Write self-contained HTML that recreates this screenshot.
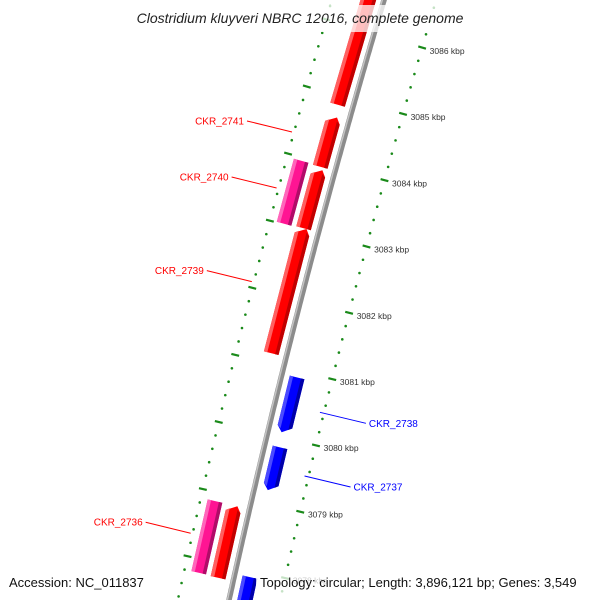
<!DOCTYPE html>
<html><head><meta charset="utf-8"><style>
html,body{margin:0;padding:0;background:#fff;overflow:hidden;}
svg{display:block;font-family:"Liberation Sans",sans-serif;}
</style></head><body>
<svg id="chart" width="600" height="600" viewBox="0 0 600 600" xmlns="http://www.w3.org/2000/svg">
<g id="rings"></g>
<g id="backbone"></g>
<g id="genes"></g>
<g id="labels"></g>
<rect x="116" y="5" width="368" height="27" fill="#fff" opacity="0.75"/>
<text x="300" y="23" text-anchor="middle" font-size="14" font-style="italic" fill="#222">Clostridium kluyveri NBRC 12016, complete genome</text>
<rect x="5" y="570" width="142" height="26" fill="#fff" opacity="0.75"/>
<text x="9" y="587" font-size="13" fill="#111">Accession: NC_011837</text>
<rect x="256" y="570" width="340" height="26" fill="#fff" opacity="0.75"/>
<text x="260" y="587" font-size="13" fill="#111">Topology: circular; Length: 3,896,121 bp; Genes: 3,549</text>
</svg>
<script>
// data
const geneNames  = ["", "CKR_2741", "CKR_2740", "", "CKR_2739", "CKR_2738", "CKR_2737", "", "CKR_2736", ""];
const geneStart  = [3084.87, 3083.94, 3083.01, 3083.02, 3081.15, 3080.07, 3079.20, 3076.50, 3077.80, 3077.79];
const geneEnd    = [3087.60, 3084.69, 3083.95, 3083.90, 3083.02, 3080.90, 3079.85, 3077.90, 3078.87, 3078.87];
const geneStrand = [1, 1, 0, 1, 1, -1, -1, -1, 0, 1];
const tickKbp    = [3077, 3078, 3079, 3080, 3081, 3082, 3083, 3084, 3085, 3086, 3087];
const tickLabels = ["3077 kbp","3078 kbp","3079 kbp","3080 kbp","3081 kbp","3082 kbp","3083 kbp","3084 kbp","3085 kbp","3086 kbp","3087 kbp"];

const NS = "http://www.w3.org/2000/svg";
function xb(s){return 384 - 0.2966*s + 6.38e-5*s*s;}
function sOf(k){return 33.5+(3086-k)*66.7;}
function P(k,h){const s=sOf(k);const d=-0.2966+2*6.38e-5*s;const L=Math.sqrt(1+d*d);return [xb(s)+h/L, s-h*d/L];}
function poly(pts){return pts.map(p=>p[0].toFixed(1)+","+p[1].toFixed(1)).join(" ");}
function mk(tag,attrs,parent){const e=document.createElementNS(NS,tag);for(const k in attrs)e.setAttribute(k,attrs[k]);parent.appendChild(e);return e;}

// backbone
const bbG=document.getElementById("backbone");
let bbLine=[];
for(let k=3088.2;k>=3076.2;k-=0.05) bbLine.push(P(k,0));
const bb1=mk("polyline",{points:poly(bbLine),fill:"none",stroke:"#8c8c8c","stroke-width":5.5},bbG);


let bbHi=[];
for(let k=3088.2;k>=3076.2;k-=0.05) bbHi.push(P(k,-1.6));
const bb2=mk("polyline",{points:poly(bbHi),fill:"none",stroke:"#c4c4c4","stroke-width":1.5},bbG);



// rings
const rG=document.getElementById("rings");
[50,-50].forEach(h=>{
  for(let i=0;i<=60;i++){
    const k=3076+i*0.2;
    const isTick=Math.abs(k-Math.round(k))<0.01;
    if(isTick){
      const a=P(k,h-4),b=P(k,h+4);
      const ln=mk("line",{x1:a[0],y1:a[1],x2:b[0],y2:b[1],stroke:"#1a8a1a","stroke-width":2.2},rG);
      
      
    } else {
      const c=P(k,h);
      const d=mk("circle",{cx:c[0],cy:c[1],r:1.3,fill:"#1a8a1a"},rG);
      
      
    }
  }
});
tickKbp.forEach((k,i)=>{
  const p=P(k,62);
  const t=mk("text",{x:p[0]-4,y:p[1]+3,"font-size":8.5,fill:"#333"},rG);
  t.textContent=tickLabels[i];
  
  
});

// genes
const gG=document.getElementById("genes");
const AH=0.09;
for(let i=0;i<geneStart.length;i++){
  const st=geneStrand[i];
  let h0,h1,main,light,dark;
  if(st===1){h0=-23;h1=-8;main="#ff0000";light="#ff6060";dark="#c00000";}
  else if(st===0){h0=-43;h1=-28;main="#ff1493";light="#ff66bb";dark="#b00c68";}
  else {h0=8;h1=23;main="#0000ff";light="#4a4aff";dark="#0000a8";}
  const a=geneStart[i], b=geneEnd[i], hm=(h0+h1)/2;
  let pts, lpts, dpts;
  if(st===1){
    pts=[P(a,h0),P(a,h1),P(b-AH,h1),P(b,hm+3),P(b-AH,h0)];
    lpts=[P(a,h0),P(a,h0+3.5),P(b-AH*0.6,h0+3.5),P(b-AH,h0)];
    dpts=[P(a,h1-3.5),P(a,h1),P(b-AH,h1),P(b-AH*0.6,h1-3.5)];
  } else if(st===-1){
    pts=[P(b,h0),P(b,h1),P(a+AH,h1),P(a,hm-2),P(a+AH,h0)];
    lpts=[P(b,h0),P(b,h0+3.5),P(a+AH*0.6,h0+3.5),P(a+AH,h0)];
    dpts=[P(b,h1-3.5),P(b,h1),P(a+AH,h1),P(a+AH*0.6,h1-3.5)];
  } else {
    pts=[P(a,h0),P(a,h1),P(b,h1),P(b,h0)];
    lpts=[P(a,h0),P(a,h0+3.5),P(b,h0+3.5),P(b,h0)];
    dpts=[P(a,h1-3.5),P(a,h1),P(b,h1),P(b,h1-3.5)];
  }
  const g=mk("g",{},gG);
  
  
  mk("polygon",{points:poly(pts),fill:main},g);
  mk("polygon",{points:poly(lpts),fill:light},g);
  mk("polygon",{points:poly(dpts),fill:dark},g);
}

// labels
const lG=document.getElementById("labels");
for(let i=0;i<geneNames.length;i++){
  if(!geneNames[i]) continue;
  const st=geneStrand[i];
  const mid=(geneStart[i]+geneEnd[i])/2;
  const col=st===-1?"#0000ff":"#ff0000";
  const g=mk("g",{},lG);
  
  
  if(st===-1){
    const a=P(mid,46), b=[a[0]+46,a[1]+11];
    mk("line",{x1:a[0],y1:a[1],x2:b[0],y2:b[1],stroke:col,"stroke-width":1},g);
    const t=mk("text",{x:b[0]+3,y:b[1]+3.5,"font-size":10,fill:col},g);
    t.textContent=geneNames[i];
  } else {
    const a=P(mid,-52), b=[a[0]-45,a[1]-11];
    mk("line",{x1:a[0],y1:a[1],x2:b[0],y2:b[1],stroke:col,"stroke-width":1},g);
    const t=mk("text",{x:b[0]-3,y:b[1]+3.5,"font-size":10,fill:col,"text-anchor":"end"},g);
    t.textContent=geneNames[i];
  }
}
</script>
</body></html>
